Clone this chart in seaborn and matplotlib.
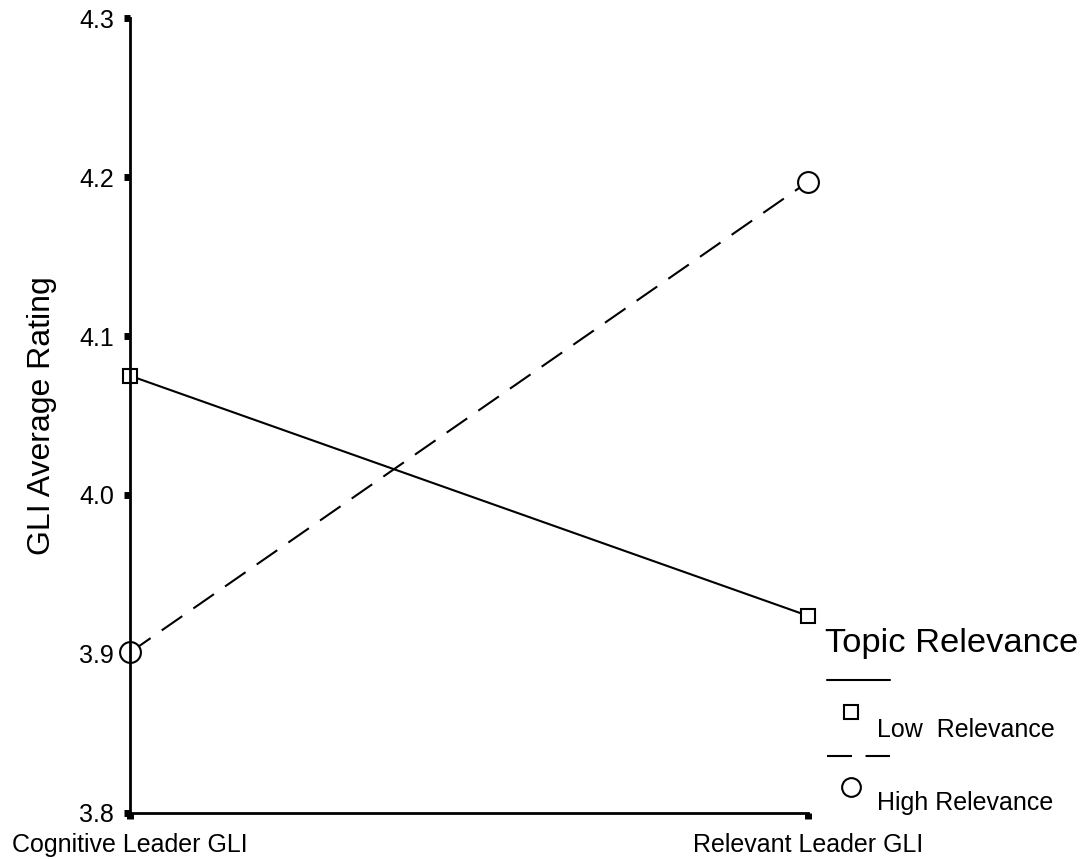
import matplotlib
matplotlib.use("Agg")
import matplotlib.pyplot as plt
import seaborn as sns
import pandas as pd
from matplotlib.lines import Line2D

# data
conditions = ["Cognitive Leader GLI", "Relevant Leader GLI"]
low_relevance = [4.075, 3.924]
high_relevance = [3.901, 4.197]
groups = ["Low  Relevance", "High Relevance"]

df = pd.DataFrame({
    "pos": [0, 1, 0, 1],
    "rating": low_relevance + high_relevance,
    "group": [groups[0]] * 2 + [groups[1]] * 2,
})

sns.set_style("white")
plt.rcParams['font.family'] = ['Liberation Sans', 'DejaVu Sans']
plt.rcParams['text.color'] = 'black'
plt.rcParams['axes.labelcolor'] = 'black'
plt.rcParams['xtick.color'] = 'black'
plt.rcParams['ytick.color'] = 'black'

fig = plt.figure(figsize=(10.81, 8.59), dpi=100)
ax = fig.add_axes([0.1203, 0.0536, 0.6272, 0.9254])

sns.lineplot(data=df, x="pos", y="rating", hue="group", style="group",
             palette=["black", "black"], markers={groups[0]: "s", groups[1]: "o"},
             dashes={groups[0]: "", groups[1]: (12, 6.5)},
             linewidth=1.5, markersize=12, markerfacecolor="white",
             markeredgecolor="black", markeredgewidth=1.5,
             legend=False, ax=ax, clip_on=False)
# SPSS markers: small square, bigger circle
for ln in ax.get_lines():
    if ln.get_marker() == "o":
        ln.set_markersize(15)
    else:
        ln.set_markersize(9.5)

ax.set_xlim(0, 1)
ax.set_ylim(3.8, 4.3)
ax.set_xticks([0, 1])
ax.set_xticklabels(conditions, fontsize=18)
ax.set_yticks([3.8, 3.9, 4.0, 4.1, 4.2, 4.3])
ax.set_yticklabels(["3.8", "3.9", "4.0", "4.1", "4.2", "4.3"], fontsize=18)
ax.tick_params(axis="both", direction="out", length=4.5, width=5, color="black",
               left=True, bottom=True)
ax.tick_params(axis="y", pad=7)
ax.tick_params(axis="x", pad=10)
ax.set_xlabel("")
ax.set_ylabel("GLI Average Rating", fontsize=23, labelpad=16)
for side in ["top", "right"]:
    ax.spines[side].set_visible(False)
for side in ["left", "bottom"]:
    ax.spines[side].set_linewidth(2)
    ax.spines[side].set_color("black")

# SPSS-style legend on the right
fig.text(0.763, 0.241, "Topic Relevance", fontsize=24.8, va="baseline", ha="left")
fig.add_artist(Line2D([0.765, 0.823], [0.2084, 0.2084], color="black", lw=1.5))
fig.add_artist(Line2D([0.787], [0.171], marker="s", markersize=10, mfc="white",
                      mec="black", mew=1.5, ls=""))
fig.text(0.811, 0.142, groups[0], fontsize=18, va="baseline", ha="left")
fig.add_artist(Line2D([0.765, 0.823], [0.1199, 0.1199], color="black", lw=1.5,
                      dashes=(12, 6.5)))
fig.add_artist(Line2D([0.787], [0.0838], marker="o", markersize=13.5, mfc="white",
                      mec="black", mew=1.5, ls=""))
fig.text(0.811, 0.057, groups[1], fontsize=18, va="baseline", ha="left")

fig.savefig("out.png", dpi=100, facecolor="white")
